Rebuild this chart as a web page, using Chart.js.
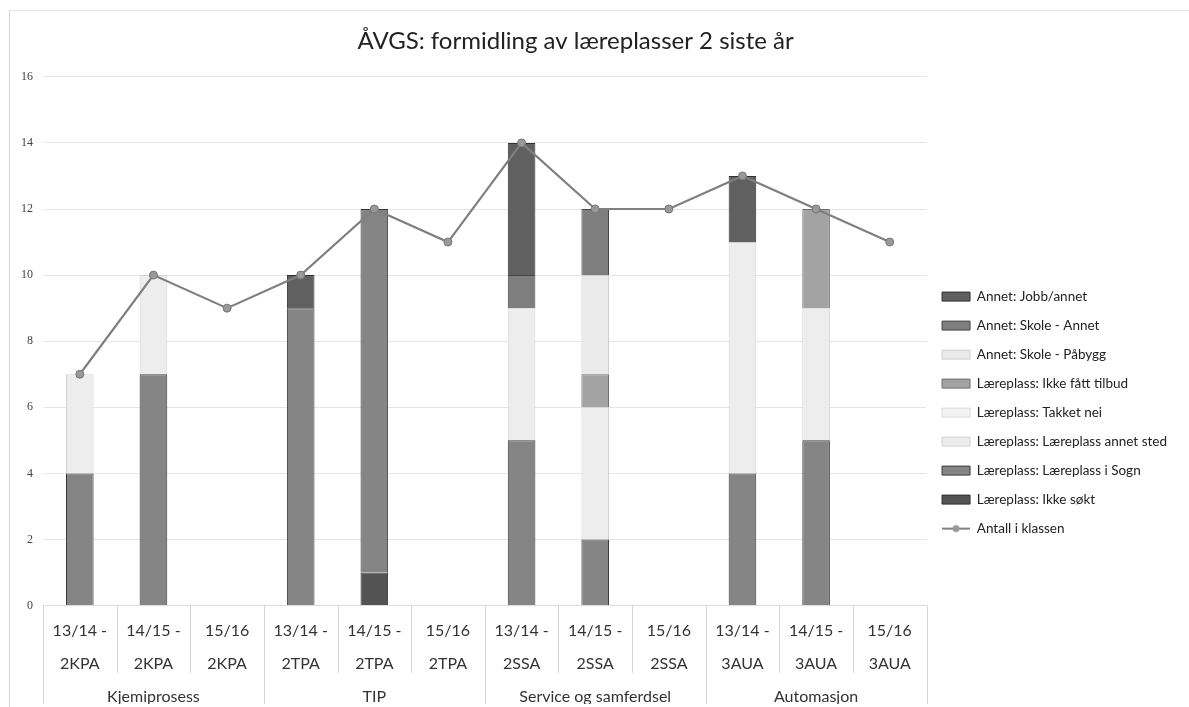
<!DOCTYPE html>
<html>
<head>
<meta charset="utf-8">
<script src="https://cdn.jsdelivr.net/npm/chart.js@4.4.0/dist/chart.umd.min.js"></script>
<style>
html, body { margin: 0; padding: 0; background: #fff; }
#wrap { position: relative; width: 1189px; height: 707px; }
#frame { position: absolute; left: 9px; top: 10px; right: 0; bottom: 0; border-left: 1px solid #d6d6d6; border-top: 1px solid #e4e4e4; pointer-events: none; }
</style>
</head>
<body>
<div id="wrap">
  <canvas id="chart" width="1189" height="707"></canvas>
  <div id="frame"></div>
</div>
<script>
// klasser (to linjer per etikett) og utdanningsprogram
const classes = [
    ['13/14 -', '2KPA'], ['14/15 -', '2KPA'], ['15/16', '2KPA'],
    ['13/14 -', '2TPA'], ['14/15 -', '2TPA'], ['15/16', '2TPA'],
    ['13/14 -', '2SSA'], ['14/15 -', '2SSA'], ['15/16', '2SSA'],
    ['13/14 -', '3AUA'], ['14/15 -', '3AUA'], ['15/16', '3AUA']
];
const programs = ['Kjemiprosess', 'TIP', 'Service og samferdsel', 'Automasjon'];

// stablet fra bunnen og opp
const ikkeSokt     = [0, 0, 0, 0, 1, 0, 0, 0, 0, 0, 0, 0];
const iSogn        = [4, 7, 0, 9, 11, 0, 5, 2, 0, 4, 5, 0];
const annetSted    = [3, 3, 0, 0, 0, 0, 4, 4, 0, 7, 4, 0];
const takketNei    = [0, 0, 0, 0, 0, 0, 0, 0, 0, 0, 0, 0];
const ikkeTilbud   = [0, 0, 0, 0, 0, 0, 0, 1, 0, 0, 3, 0];
const skolePabygg  = [0, 0, 0, 0, 0, 0, 0, 3, 0, 0, 0, 0];
const skoleAnnet   = [0, 0, 0, 0, 0, 0, 1, 2, 0, 0, 0, 0];
const jobbAnnet    = [0, 0, 0, 1, 0, 0, 4, 0, 0, 2, 0, 0];
const antall       = [7, 10, 9, 10, 12, 11, 14, 12, 12, 13, 12, 11];

const yTicks = [0, 2, 4, 6, 8, 10, 12, 14, 16];

const FONT = 'Lato, "Open Sans", sans-serif';

function barSet(label, data, fill, border) {
    return {
        type: 'bar',
        label,
        data,
        stack: 'elever',
        backgroundColor: fill,
        borderColor: border,
        borderWidth: 1,
        pointStyle: 'rect',
        order: 1
    };
}

// liten strek med prikk til forklaringen for linjen
const lineIcon = document.createElement('canvas');
lineIcon.width = 28;
lineIcon.height = 10;
(() => {
    const c = lineIcon.getContext('2d');
    c.strokeStyle = '#7f7f7f';
    c.lineWidth = 2;
    c.beginPath(); c.moveTo(0, 5); c.lineTo(28, 5); c.stroke();
    c.fillStyle = '#999';
    c.beginPath(); c.arc(14, 5, 3.5, 0, Math.PI * 2); c.fill();
})();

// skillelinjer under aksen, lange mellom programmene
const separators = {
    id: 'separators',
    afterDraw(chart) {
        const x = chart.scales.x;
        const x2 = chart.scales.x2;
        const ctx = chart.ctx;
        const n = classes.length;
        const perGroup = n / programs.length;
        const step = (x.right - x.left) / n;
        ctx.save();
        ctx.strokeStyle = '#d4d4d4';
        ctx.lineWidth = 1;
        for (let i = 0; i <= n; i++) {
            const px = Math.round(x.left + i * step) + 0.5;
            const bottom = i % perGroup === 0 ? x2.bottom : x.bottom - 16;
            ctx.beginPath();
            ctx.moveTo(px, chart.chartArea.bottom);
            ctx.lineTo(px, bottom);
            ctx.stroke();
        }
        ctx.restore();
    }
};

const ctx = document.getElementById('chart').getContext('2d');
new Chart(ctx, {
    data: {
        labels: classes,
        datasets: [
            barSet('Læreplass: Ikke søkt', ikkeSokt, '#535353', '#2e2e2e'),
            barSet('Læreplass: Læreplass i Sogn', iSogn, '#858585', '#3a3a3a'),
            barSet('Læreplass: Læreplass annet sted', annetSted, '#ededed', '#d2d2d2'),
            barSet('Læreplass: Takket nei', takketNei, '#f3f3f3', '#d8d8d8'),
            barSet('Læreplass: Ikke fått tilbud', ikkeTilbud, '#a3a3a3', '#6e6e6e'),
            barSet('Annet: Skole - Påbygg', skolePabygg, '#eaeaea', '#cfcfcf'),
            barSet('Annet: Skole - Annet', skoleAnnet, '#7e7e7e', '#474747'),
            barSet('Annet: Jobb/annet', jobbAnnet, '#606060', '#303030'),
            {
                type: 'line',
                label: 'Antall i klassen',
                data: antall,
                stack: 'antall',
                borderColor: '#7f7f7f',
                borderWidth: 2.2,
                backgroundColor: '#999',
                pointBackgroundColor: '#999',
                pointBorderColor: '#777',
                pointBorderWidth: 1,
                pointRadius: 4,
                tension: 0,
                order: 0
            }
        ]
    },
    options: {
        responsive: false,
        devicePixelRatio: 1,
        animation: false,
        layout: { padding: { left: 11, right: 12, top: 0, bottom: 3 } },
        datasets: {
            bar: { categoryPercentage: 1, barPercentage: 0.375 }
        },
        scales: {
            x: {
                stacked: true,
                offset: true,
                grid: { display: false, drawTicks: false },
                border: { display: true, color: '#dcdcdc' },
                ticks: {
                    padding: 8,
                    color: '#333',
                    maxRotation: 0,
                    autoSkip: false,
                    font: { family: FONT, size: 16, lineHeight: 2.1 }
                }
            },
            x2: {
                type: 'category',
                labels: programs,
                position: 'bottom',
                offset: true,
                grid: { display: false, drawTicks: false },
                border: { display: false },
                ticks: {
                    padding: -2,
                    color: '#333',
                    maxRotation: 0,
                    font: { family: FONT, size: 16 }
                }
            },
            y: {
                stacked: true,
                min: 0,
                max: yTicks[yTicks.length - 1],
                afterBuildTicks: axis => { axis.ticks = yTicks.map(v => ({ value: v })); },
                grid: { color: '#e6e6e6', drawTicks: false },
                border: { display: false },
                ticks: {
                    padding: 10,
                    color: '#444',
                    font: { family: '"Liberation Serif", serif', size: 12 }
                }
            }
        },
        plugins: {
            title: {
                display: true,
                // mellomrom bak teksten flytter tittelen litt mot venstre som i originalen
                text: 'ÅVGS: formidling av læreplasser 2 siste år      ',
                color: '#222',
                font: { family: FONT, size: 24, weight: 'normal' },
                padding: { top: 27, bottom: 21 }
            },
            legend: {
                position: 'right',
                title: { display: true, text: ' ', padding: { top: 60, bottom: 54 }, font: { size: 6 } },
                labels: {
                    usePointStyle: true,
                    pointStyleWidth: 28,
                    boxHeight: 9,
                    padding: 15.5,
                    color: '#222',
                    font: { family: FONT, size: 13.5 },
                    generateLabels: chart => {
                        const items = Chart.defaults.plugins.legend.labels.generateLabels(chart);
                        items.forEach(item => {
                            if (chart.data.datasets[item.datasetIndex].type === 'line') {
                                item.pointStyle = lineIcon;
                            } else {
                                item.pointStyle = 'rect';
                            }
                        });
                        return items;
                    },
                    sort: (a, b) => {
                        const key = it => it.pointStyle === lineIcon ? 100 : -it.datasetIndex;
                        return key(a) - key(b);
                    }
                }
            },
            tooltip: { enabled: false }
        }
    },
    plugins: [separators]
});
</script>
</body>
</html>
